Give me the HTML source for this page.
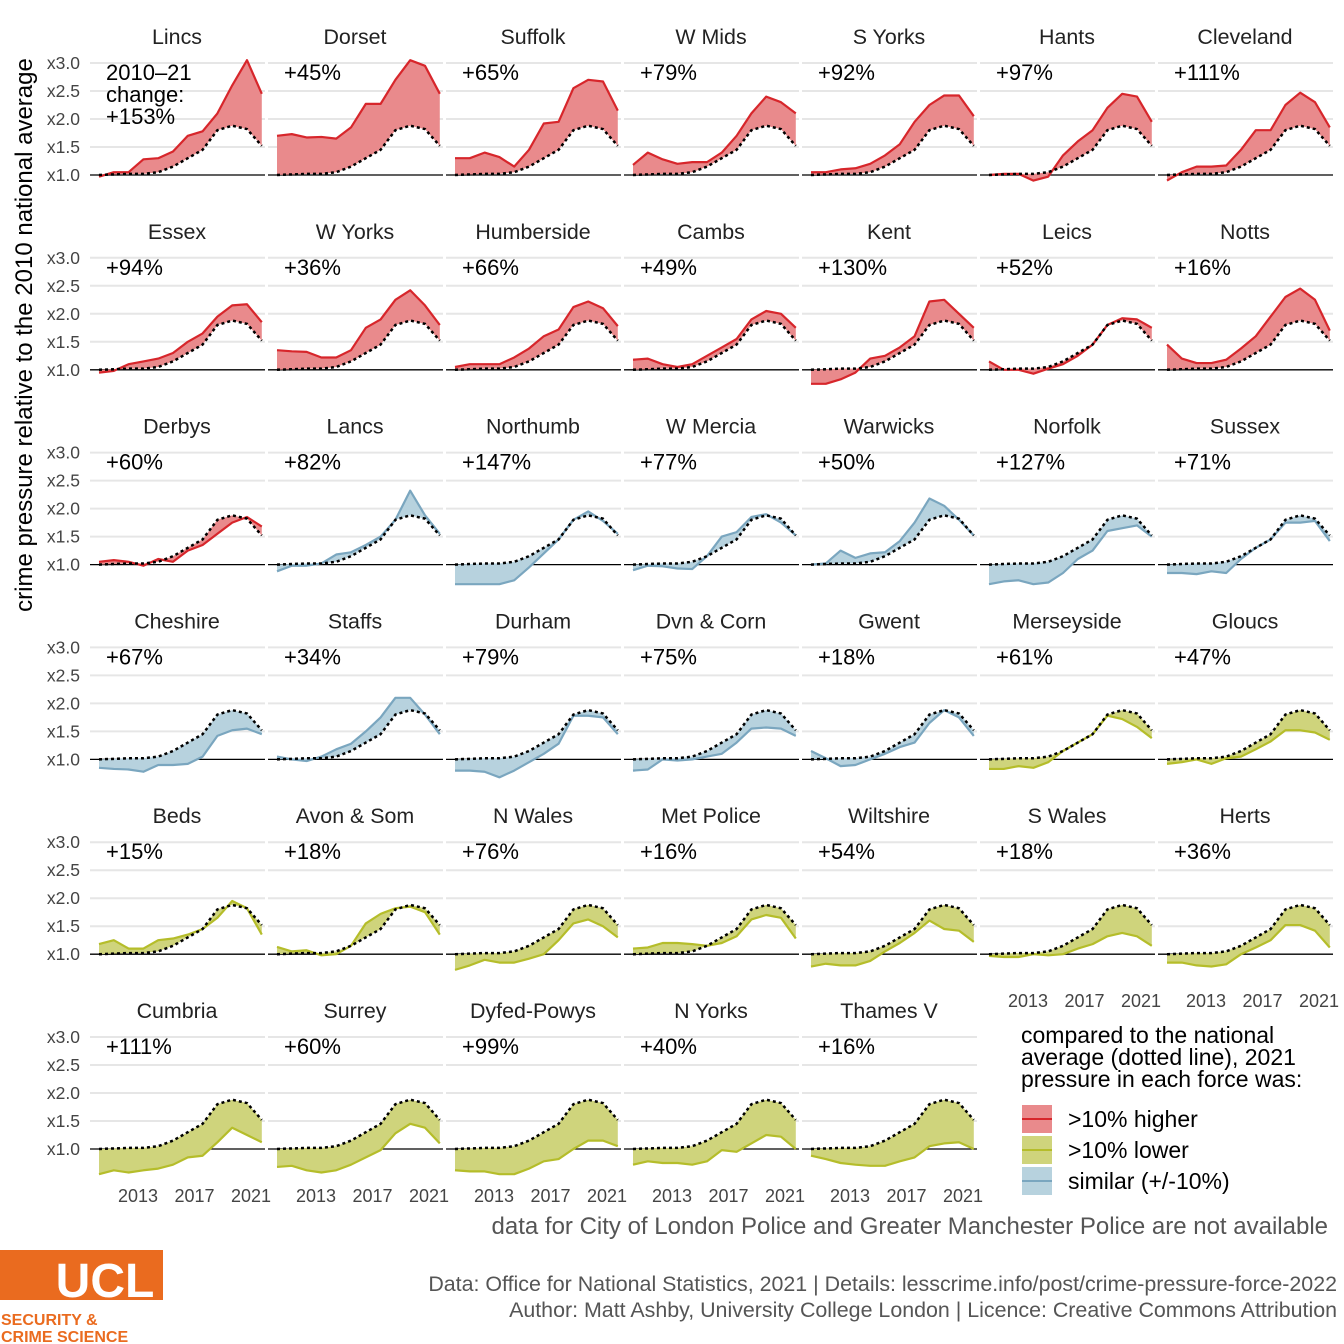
<!DOCTYPE html>
<html><head><meta charset="utf-8">
<style>
body{margin:0;background:#fff;}
svg{display:block;font-family:"Liberation Sans",sans-serif;}
</style></head>
<body>
<svg id="chart" width="1344" height="1344" viewBox="0 0 1344 1344">
<g id="panels"></g>
<text x="0" y="0" transform="translate(32,335) rotate(-90)" text-anchor="middle" font-size="24" fill="#000">crime pressure relative to the 2010 national average</text>
<g>
<text x="1021" y="1043" font-size="23">compared to the national</text>
<text x="1021" y="1065" font-size="23">average (dotted line), 2021</text>
<text x="1021" y="1087" font-size="23">pressure in each force was:</text>
<rect x="1022" y="1105" width="30" height="28" fill="#e98a8c"/>
<line x1="1022" x2="1052" y1="1119" y2="1119" stroke="#d7262b" stroke-width="2"/>
<text x="1068" y="1127" font-size="23">&gt;10% higher</text>
<rect x="1022" y="1136" width="30" height="28" fill="#cfd47c"/>
<line x1="1022" x2="1052" y1="1150" y2="1150" stroke="#b5bd2a" stroke-width="2"/>
<text x="1068" y="1158" font-size="23">&gt;10% lower</text>
<rect x="1022" y="1167" width="30" height="28" fill="#b7d2de"/>
<line x1="1022" x2="1052" y1="1181" y2="1181" stroke="#7aa6bf" stroke-width="2"/>
<text x="1068" y="1189" font-size="23">similar (+/-10%)</text>
</g>
<text x="1328" y="1234" text-anchor="end" font-size="24" fill="#555">data for City of London Police and Greater Manchester Police are not available</text>
<text x="1337" y="1291" text-anchor="end" font-size="21.4" fill="#555">Data: Office for National Statistics, 2021 |  Details: lesscrime.info/post/crime-pressure-force-2022</text>
<text x="1337" y="1317" text-anchor="end" font-size="21.4" fill="#555">Author: Matt Ashby, University College London |  Licence: Creative Commons Attribution</text>
<g>
<rect x="0" y="1250" width="163" height="50" fill="#ea6b1f"/>
<text x="105" y="1297" text-anchor="middle" font-size="48" font-weight="bold" fill="#fff">UCL</text>
<text x="1" y="1325" font-size="16" font-weight="bold" fill="#ea6b1f">SECURITY &amp;</text>
<text x="1" y="1342" font-size="16" font-weight="bold" fill="#ea6b1f">CRIME SCIENCE</text>
</g>
</svg>
<script>
const years = [2010,2011,2012,2013,2014,2015,2016,2017,2018,2019,2020,2021];
const national = [1.0,1.01,1.02,1.02,1.05,1.15,1.3,1.45,1.8,1.88,1.82,1.52];
const forces = ["Lincs","Dorset","Suffolk","W Mids","S Yorks","Hants","Cleveland",
"Essex","W Yorks","Humberside","Cambs","Kent","Leics","Notts",
"Derbys","Lancs","Northumb","W Mercia","Warwicks","Norfolk","Sussex",
"Cheshire","Staffs","Durham","Dvn & Corn","Gwent","Merseyside","Gloucs",
"Beds","Avon & Som","N Wales","Met Police","Wiltshire","S Wales","Herts",
"Cumbria","Surrey","Dyfed-Powys","N Yorks","Thames V"];
const changes = ["+153%","+45%","+65%","+79%","+92%","+97%","+111%",
"+94%","+36%","+66%","+49%","+130%","+52%","+16%",
"+60%","+82%","+147%","+77%","+50%","+127%","+71%",
"+67%","+34%","+79%","+75%","+18%","+61%","+47%",
"+15%","+18%","+76%","+16%","+54%","+18%","+36%",
"+111%","+60%","+99%","+40%","+16%"];
const groups = ["h","h","h","h","h","h","h","h","h","h","h","h","h","h",
"h","s","s","s","s","s","s","s","s","s","s","s","l","l",
"l","l","l","l","l","l","l","l","l","l","l","l"];
const s0=[0.97,1.05,1.05,1.28,1.3,1.42,1.7,1.78,2.1,2.6,3.05,2.45];
const s1=[1.7,1.73,1.67,1.68,1.65,1.85,2.27,2.27,2.7,3.05,2.95,2.45];
const s2=[1.3,1.3,1.4,1.32,1.15,1.45,1.92,1.95,2.55,2.7,2.67,2.15];
const s3=[1.18,1.4,1.28,1.2,1.23,1.23,1.4,1.7,2.1,2.4,2.3,2.1];
const s4=[1.05,1.05,1.1,1.12,1.2,1.35,1.55,1.95,2.25,2.42,2.42,2.05];
const s5=[1.0,1.02,1.02,0.9,0.97,1.35,1.6,1.8,2.2,2.45,2.4,1.95];
const s6=[0.9,1.05,1.15,1.15,1.17,1.45,1.8,1.8,2.25,2.47,2.3,1.85];
const s7=[0.95,0.98,1.1,1.15,1.2,1.3,1.5,1.65,1.95,2.15,2.17,1.85];
const s8=[1.35,1.33,1.32,1.22,1.22,1.35,1.75,1.9,2.25,2.42,2.15,1.8];
const s9=[1.05,1.1,1.1,1.1,1.22,1.38,1.6,1.72,2.12,2.22,2.1,1.78];
const s10=[1.18,1.2,1.1,1.05,1.1,1.25,1.4,1.55,1.9,2.05,2.0,1.75];
const s11=[0.75,0.75,0.83,0.95,1.2,1.25,1.4,1.6,2.22,2.25,2.0,1.75];
const s12=[1.15,1.0,1.0,0.93,1.02,1.1,1.25,1.45,1.8,1.92,1.9,1.75];
const s13=[1.45,1.2,1.12,1.12,1.18,1.38,1.6,1.95,2.3,2.45,2.25,1.7];
const s14=[1.05,1.08,1.05,0.98,1.1,1.05,1.25,1.35,1.55,1.75,1.85,1.68];
const s15=[0.88,0.98,0.98,1.02,1.18,1.22,1.35,1.5,1.8,2.32,1.88,1.55];
const s16=[0.65,0.65,0.65,0.65,0.72,0.95,1.2,1.45,1.8,1.95,1.78,1.55];
const s17=[0.9,0.98,0.97,0.93,0.92,1.15,1.5,1.58,1.85,1.9,1.75,1.52];
const s18=[1.0,1.02,1.25,1.12,1.2,1.22,1.42,1.75,2.18,2.05,1.8,1.52];
const s19=[0.65,0.7,0.72,0.65,0.68,0.85,1.1,1.25,1.6,1.65,1.7,1.5];
const s20=[0.85,0.85,0.83,0.88,0.85,1.1,1.3,1.45,1.75,1.75,1.78,1.42];
const s21=[0.85,0.83,0.82,0.78,0.9,0.9,0.92,1.05,1.42,1.52,1.55,1.45];
const s22=[1.05,1.0,0.97,1.05,1.18,1.28,1.5,1.75,2.1,2.1,1.8,1.45];
const s23=[0.8,0.8,0.78,0.68,0.8,0.95,1.1,1.28,1.78,1.78,1.75,1.45];
const s24=[0.8,0.82,1.0,0.98,1.0,1.05,1.1,1.3,1.55,1.57,1.55,1.42];
const s25=[1.15,1.02,0.88,0.9,1.0,1.1,1.22,1.3,1.65,1.88,1.75,1.42];
const s26=[0.83,0.83,0.88,0.85,0.95,1.15,1.3,1.45,1.78,1.72,1.58,1.38];
const s27=[0.92,0.95,1.0,0.92,1.02,1.05,1.18,1.32,1.52,1.52,1.48,1.35];
const s28=[1.18,1.25,1.1,1.1,1.25,1.28,1.35,1.45,1.65,1.95,1.82,1.35];
const s29=[1.13,1.05,1.07,0.98,1.0,1.15,1.55,1.72,1.82,1.85,1.75,1.35];
const s30=[0.72,0.8,0.9,0.85,0.85,0.92,1.0,1.25,1.55,1.62,1.5,1.3];
const s31=[1.1,1.12,1.2,1.2,1.18,1.15,1.2,1.32,1.62,1.7,1.65,1.28];
const s32=[0.78,0.83,0.8,0.8,0.88,1.05,1.2,1.38,1.6,1.45,1.42,1.22];
const s33=[0.97,0.95,0.95,1.0,0.98,1.0,1.1,1.18,1.32,1.38,1.32,1.15];
const s34=[0.85,0.85,0.8,0.78,0.82,1.0,1.12,1.25,1.52,1.52,1.42,1.12];
const s35=[0.55,0.62,0.58,0.62,0.65,0.72,0.85,0.88,1.12,1.38,1.25,1.12];
const s36=[0.68,0.7,0.62,0.58,0.62,0.72,0.85,0.98,1.28,1.45,1.38,1.1];
const s37=[0.62,0.6,0.6,0.55,0.55,0.65,0.78,0.82,1.0,1.15,1.15,1.05];
const s38=[0.72,0.78,0.75,0.75,0.72,0.78,0.98,0.95,1.1,1.25,1.22,1.0];
const s39=[0.88,0.82,0.75,0.72,0.7,0.7,0.78,0.85,1.05,1.1,1.12,1.0];
const series=[s0,s1,s2,s3,s4,s5,s6,s7,s8,s9,s10,s11,s12,s13,s14,s15,s16,s17,s18,s19,s20,s21,s22,s23,s24,s25,s26,s27,s28,s29,s30,s31,s32,s33,s34,s35,s36,s37,s38,s39];
const yTicks=[1.0,1.5,2.0,2.5,3.0];
const yTickLabels=["x1.0","x1.5","x2.0","x2.5","x3.0"];
const xTicks=[2013,2017,2021];

const colors={h:{line:"#d7262b",fill:"#e98a8c"},l:{line:"#b5bd2a",fill:"#cfd47c"},s:{line:"#7aa6bf",fill:"#b7d2de"}};
const NS="http://www.w3.org/2000/svg";
const root=document.getElementById("panels");
function mk(tag,attrs,parent){const e=document.createElementNS(NS,tag);for(const k in attrs)e.setAttribute(k,attrs[k]);parent.appendChild(e);return e;}
function colX(c){return 178*c;}
function xScale(c,yr){return 99+colX(c)+(yr-2010)*14.8;}
function tickX(c,yr){return 95.6+colX(c)+(yr-2010)*14.125;}
function yScale(r,v){return 175+194.8*r-(v-1)*56;}

forces.forEach((name,i)=>{
  const r=Math.floor(i/7), c=i%7;
  const g=mk("g",{},root);
  
  
  yTicks.forEach(t=>{
    const y=yScale(r,t);
    const gl=mk("line",{x1:90+colX(c),x2:265+colX(c),y1:y,y2:y,stroke:t===1?"#000":"#e6e6e6","stroke-width":t===1?1.3:2},g);
    
    
  });
  if(c===0){
    yTicks.forEach((t,k)=>{
      const tl=mk("text",{x:80,y:yScale(r,t)+6,"text-anchor":"end","font-size":17.5,fill:"#444"},root);
      tl.textContent=yTickLabels[k];
      
      
    });
  }
  const col=colors[groups[i]], d=series[i];
  let pts=years.map((yr,k)=>xScale(c,yr)+","+yScale(r,d[k]));
  let npts=years.map((yr,k)=>xScale(c,yr)+","+yScale(r,national[k])).reverse();
  const area=mk("polygon",{points:pts.concat(npts).join(" "),fill:col.fill,stroke:"none"},g);
  
  
  const ln=mk("polyline",{points:pts.join(" "),fill:"none",stroke:col.line,"stroke-width":2.2,"stroke-linejoin":"round"},g);
  
  
  const nl=mk("polyline",{points:years.map((yr,k)=>xScale(c,yr)+","+yScale(r,national[k])).join(" "),fill:"none",stroke:"#000","stroke-width":2.5,"stroke-dasharray":"3,3"},g);
  
  
  const tt=mk("text",{x:177+colX(c),y:44+194.8*r,"text-anchor":"middle","font-size":21.4,fill:"#222"},g);
  tt.textContent=name;
  
  
  if(i===0){
    ["2010–21","change:",changes[0]].forEach((s,k)=>{
      const t=mk("text",{x:106,y:80+k*22,"font-size":22,fill:"#000"},g);
      t.textContent=s;
      
      
    });
  } else {
    const t=mk("text",{x:106+colX(c),y:80+194.8*r,"font-size":22,fill:"#000"},g);
    t.textContent=changes[i];
    
    
  }
  const bottom = (r===5) || (r===4 && c>=5);
  if(bottom){
    xTicks.forEach(yr=>{
      const xl=mk("text",{x:tickX(c,yr),y:yScale(r,1)+53,"text-anchor":"middle","font-size":18,fill:"#444"},root);
      xl.textContent=yr;
      
      
    });
  }
});
</script>
</body></html>
